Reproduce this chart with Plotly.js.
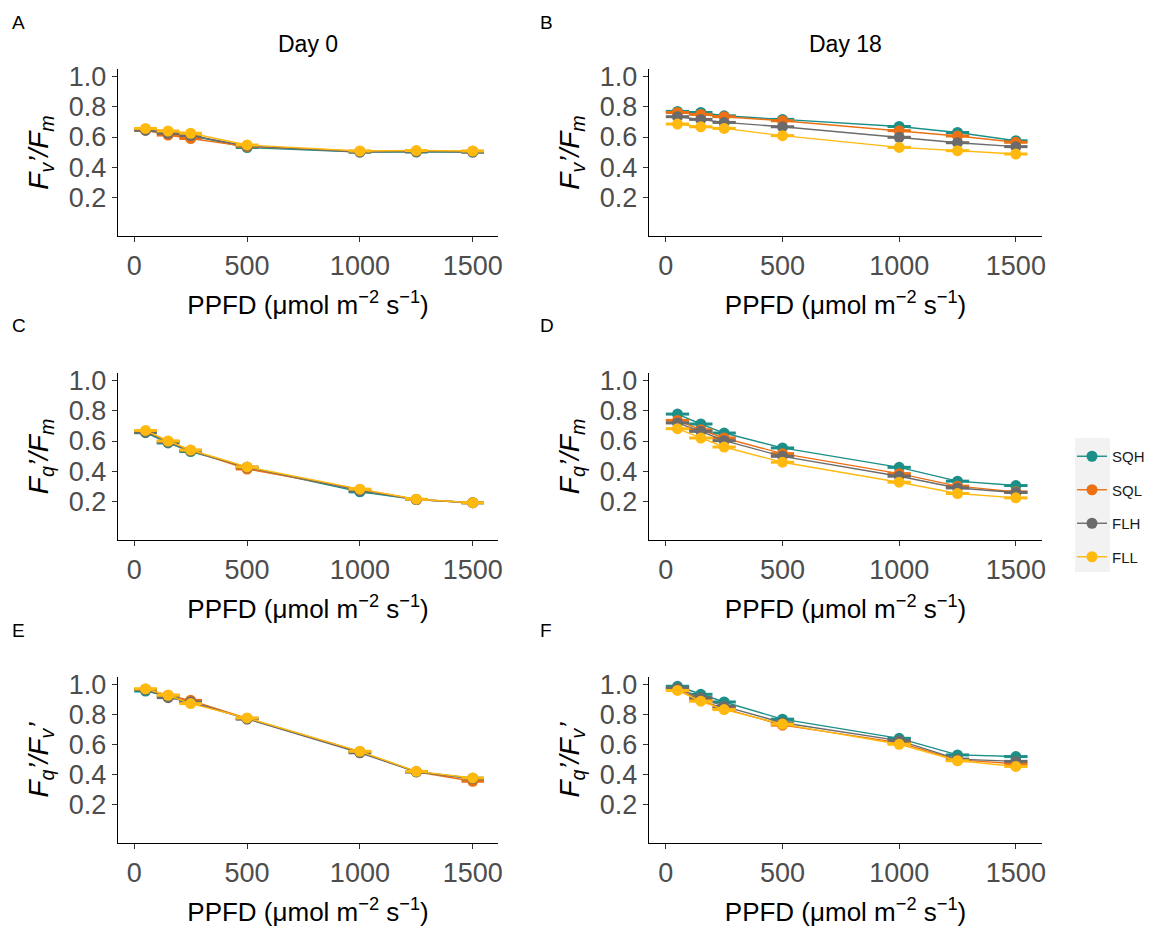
<!DOCTYPE html>
<html>
<head>
<meta charset="utf-8">
<script src="https://cdn.plot.ly/plotly-3.0.1.min.js"></script>
<style>html,body{margin:0;padding:0;background:#fff;}#chart{width:1167px;height:931px;}</style>
</head>
<body>
<div id="chart"></div>
<script>
// ---- data ----
const ppfd = [50, 150, 250, 500, 1000, 1250, 1500];
const groups = ['SQH', 'SQL', 'FLH', 'FLL'];
const groupColors = ['#1b8f88', '#ec7014', '#6b6b6b', '#ffb90f'];
const dayTitles = ['Day 0', 'Day 18'];
const panelLetters = ['A', 'B', 'C', 'D', 'E', 'F'];
const xTickVals = [0, 500, 1000, 1500];
const yTickVals = [0.2, 0.4, 0.6, 0.8, 1.0];
const yTickText = ['0.2', '0.4', '0.6', '0.8', '1.0'];

// Fv'/Fm, Day 0
const fvfm_d0_SQH = [0.645, 0.620, 0.610, 0.530, 0.500, 0.500, 0.500];
const fvfm_d0_SQL = [0.646, 0.613, 0.590, 0.536, 0.505, 0.505, 0.505];
const fvfm_d0_FLH = [0.645, 0.625, 0.610, 0.540, 0.500, 0.505, 0.500];
const fvfm_d0_FLL = [0.657, 0.640, 0.625, 0.547, 0.507, 0.510, 0.507];
// Fv'/Fm, Day 18
const fvfm_d18_SQH = [0.770, 0.763, 0.741, 0.717, 0.670, 0.630, 0.575];
const fvfm_d18_SQL = [0.763, 0.750, 0.735, 0.708, 0.642, 0.607, 0.565];
const fvfm_d18_FLH = [0.735, 0.717, 0.697, 0.668, 0.598, 0.562, 0.536];
const fvfm_d18_FLL = [0.686, 0.668, 0.657, 0.609, 0.531, 0.509, 0.487];
// Fq'/Fm, Day 0
const fqfm_d0_SQH = [0.655, 0.587, 0.530, 0.425, 0.262, 0.211, 0.190];
const fqfm_d0_SQL = [0.662, 0.598, 0.538, 0.414, 0.277, 0.211, 0.190];
const fqfm_d0_FLH = [0.660, 0.592, 0.535, 0.425, 0.270, 0.211, 0.190];
const fqfm_d0_FLL = [0.670, 0.600, 0.540, 0.428, 0.280, 0.213, 0.190];
// Fq'/Fm, Day 18
const fqfm_d18_SQH = [0.779, 0.713, 0.653, 0.554, 0.425, 0.333, 0.304];
const fqfm_d18_SQL = [0.737, 0.675, 0.620, 0.516, 0.383, 0.300, 0.262];
const fqfm_d18_FLH = [0.720, 0.664, 0.602, 0.498, 0.366, 0.288, 0.258];
const fqfm_d18_FLL = [0.682, 0.620, 0.560, 0.459, 0.326, 0.251, 0.222];
// Fq'/Fv', Day 0
const fqfv_d0_SQH = [0.958, 0.925, 0.885, 0.775, 0.553, 0.418, 0.375];
const fqfv_d0_SQL = [0.970, 0.930, 0.896, 0.775, 0.550, 0.418, 0.355];
const fqfv_d0_FLH = [0.968, 0.914, 0.885, 0.770, 0.545, 0.418, 0.372];
const fqfv_d0_FLL = [0.973, 0.930, 0.874, 0.778, 0.555, 0.421, 0.377];
// Fq'/Fv', Day 18
const fqfv_d18_SQH = [0.990, 0.936, 0.885, 0.770, 0.642, 0.531, 0.520];
const fqfv_d18_SQL = [0.973, 0.896, 0.841, 0.730, 0.613, 0.498, 0.472];
const fqfv_d18_FLH = [0.978, 0.914, 0.856, 0.746, 0.627, 0.503, 0.488];
const fqfv_d18_FLL = [0.962, 0.890, 0.834, 0.737, 0.602, 0.492, 0.454];

const panelSeries = [
  [fvfm_d0_SQH, fvfm_d0_SQL, fvfm_d0_FLH, fvfm_d0_FLL],
  [fvfm_d18_SQH, fvfm_d18_SQL, fvfm_d18_FLH, fvfm_d18_FLL],
  [fqfm_d0_SQH, fqfm_d0_SQL, fqfm_d0_FLH, fqfm_d0_FLL],
  [fqfm_d18_SQH, fqfm_d18_SQL, fqfm_d18_FLH, fqfm_d18_FLL],
  [fqfv_d0_SQH, fqfv_d0_SQL, fqfv_d0_FLH, fqfv_d0_FLL],
  [fqfv_d18_SQH, fqfv_d18_SQL, fqfv_d18_FLH, fqfv_d18_FLL]
];
const yTitles = [
  '<i>F<sub>v</sub>’/F<sub>m</sub></i>',
  '<i>F<sub>v</sub>’/F<sub>m</sub></i>',
  '<i>F<sub>q</sub>’/F<sub>m</sub></i>',
  '<i>F<sub>q</sub>’/F<sub>m</sub></i>',
  '<i>F<sub>q</sub>’/F<sub>v</sub>’</i>',
  '<i>F<sub>q</sub>’/F<sub>v</sub>’</i>'
];
const xTitle = 'PPFD (μmol m<sup>−2</sup> s<sup>−1</sup>)';

// ---- layout geometry (pixels) ----
const W = 1167, H = 931;
const colPx = [[118, 498], [649, 1042]];
const rowPx = [[69, 236], [373, 540], [677, 843]];
const FONT = 'Liberation Sans, Arial, sans-serif';

const traces = [];
const layout = {
  width: W, height: H,
  margin: {l: 0, r: 0, t: 0, b: 0},
  paper_bgcolor: '#ffffff',
  plot_bgcolor: '#ffffff',
  showlegend: true,
  font: {family: FONT, color: '#000'},
  legend: {
    x: 1072 / W, y: 1 - 440 / H, xanchor: 'left', yanchor: 'top',
    font: {family: FONT, size: 15, color: '#1a1a1a'},
    tracegroupgap: 11, bgcolor: 'rgba(0,0,0,0)', itemwidth: 30
  },
  annotations: [],
  shapes: [
    {type: 'rect', xref: 'paper', yref: 'paper', x0: 1075 / W, x1: 1110 / W,
     y0: 1 - 572 / H, y1: 1 - 438 / H, fillcolor: '#f2f2f2', line: {width: 0}, layer: 'below'}
  ]
};

for (let p = 0; p < 6; p++) {
  const row = Math.floor(p / 2), col = p % 2;
  const suffix = p === 0 ? '' : String(p + 1);
  const xa = 'xaxis' + suffix, ya = 'yaxis' + suffix;
  layout[xa] = {
    domain: [colPx[col][0] / W, colPx[col][1] / W],
    anchor: 'y' + suffix,
    range: [-72, 1612],
    tickvals: xTickVals, ticktext: xTickVals.map(String),
    ticks: 'outside', ticklen: 5, tickcolor: '#333333', tickwidth: 1,
    showline: true, linecolor: '#000000', linewidth: 1.2,
    showgrid: false, zeroline: false,
    tickfont: {family: FONT, size: 27, color: '#4d4d4d'},
    title: {text: xTitle, font: {family: FONT, size: 26, color: '#000'}, standoff: 16},
    fixedrange: true
  };
  layout[ya] = {
    domain: [1 - rowPx[row][1] / H, 1 - rowPx[row][0] / H],
    anchor: 'x' + suffix,
    range: [-0.058, 1.052],
    tickvals: yTickVals, ticktext: yTickText,
    ticks: 'outside', ticklen: 5, tickcolor: '#333333', tickwidth: 1,
    showline: true, linecolor: '#000000', linewidth: 1.2,
    showgrid: false, zeroline: false,
    tickfont: {family: FONT, size: 27, color: '#4d4d4d'},
    title: {text: yTitles[p], font: {family: FONT, size: 28, color: '#000'}, standoff: 12},
    fixedrange: true
  };
  for (let g = 0; g < groups.length; g++) {
    traces.push({
      type: 'scatter', mode: 'lines+markers',
      x: ppfd, y: panelSeries[p][g],
      xaxis: 'x' + suffix, yaxis: 'y' + suffix,
      name: groups[g], legendgroup: groups[g], showlegend: p === 0,
      line: {color: groupColors[g], width: 1.4},
      marker: {color: groupColors[g], size: 11, symbol: 'circle'},
      error_x: {type: 'constant', value: 50, color: groupColors[g], thickness: 3, width: 0},
      hoverinfo: 'x+y+name'
    });
  }
  // panel letter
  layout.annotations.push({
    text: panelLetters[p], xref: 'paper', yref: 'paper',
    x: (col === 0 ? 10 : 538) / W, y: 1 - (rowPx[row][0] - 47) / H,
    xanchor: 'left', yanchor: 'middle', showarrow: false,
    font: {family: FONT, size: 19, color: '#000'}
  });
}
// column titles
for (let c = 0; c < 2; c++) {
  layout.annotations.push({
    text: dayTitles[c], xref: 'paper', yref: 'paper',
    x: (colPx[c][0] + colPx[c][1]) / 2 / W, y: 1 - 44 / H,
    xanchor: 'center', yanchor: 'middle', showarrow: false,
    font: {family: FONT, size: 23, color: '#000'}
  });
}

Plotly.newPlot('chart', traces, layout, {displayModeBar: false, staticPlot: true});
</script>
</body>
</html>
